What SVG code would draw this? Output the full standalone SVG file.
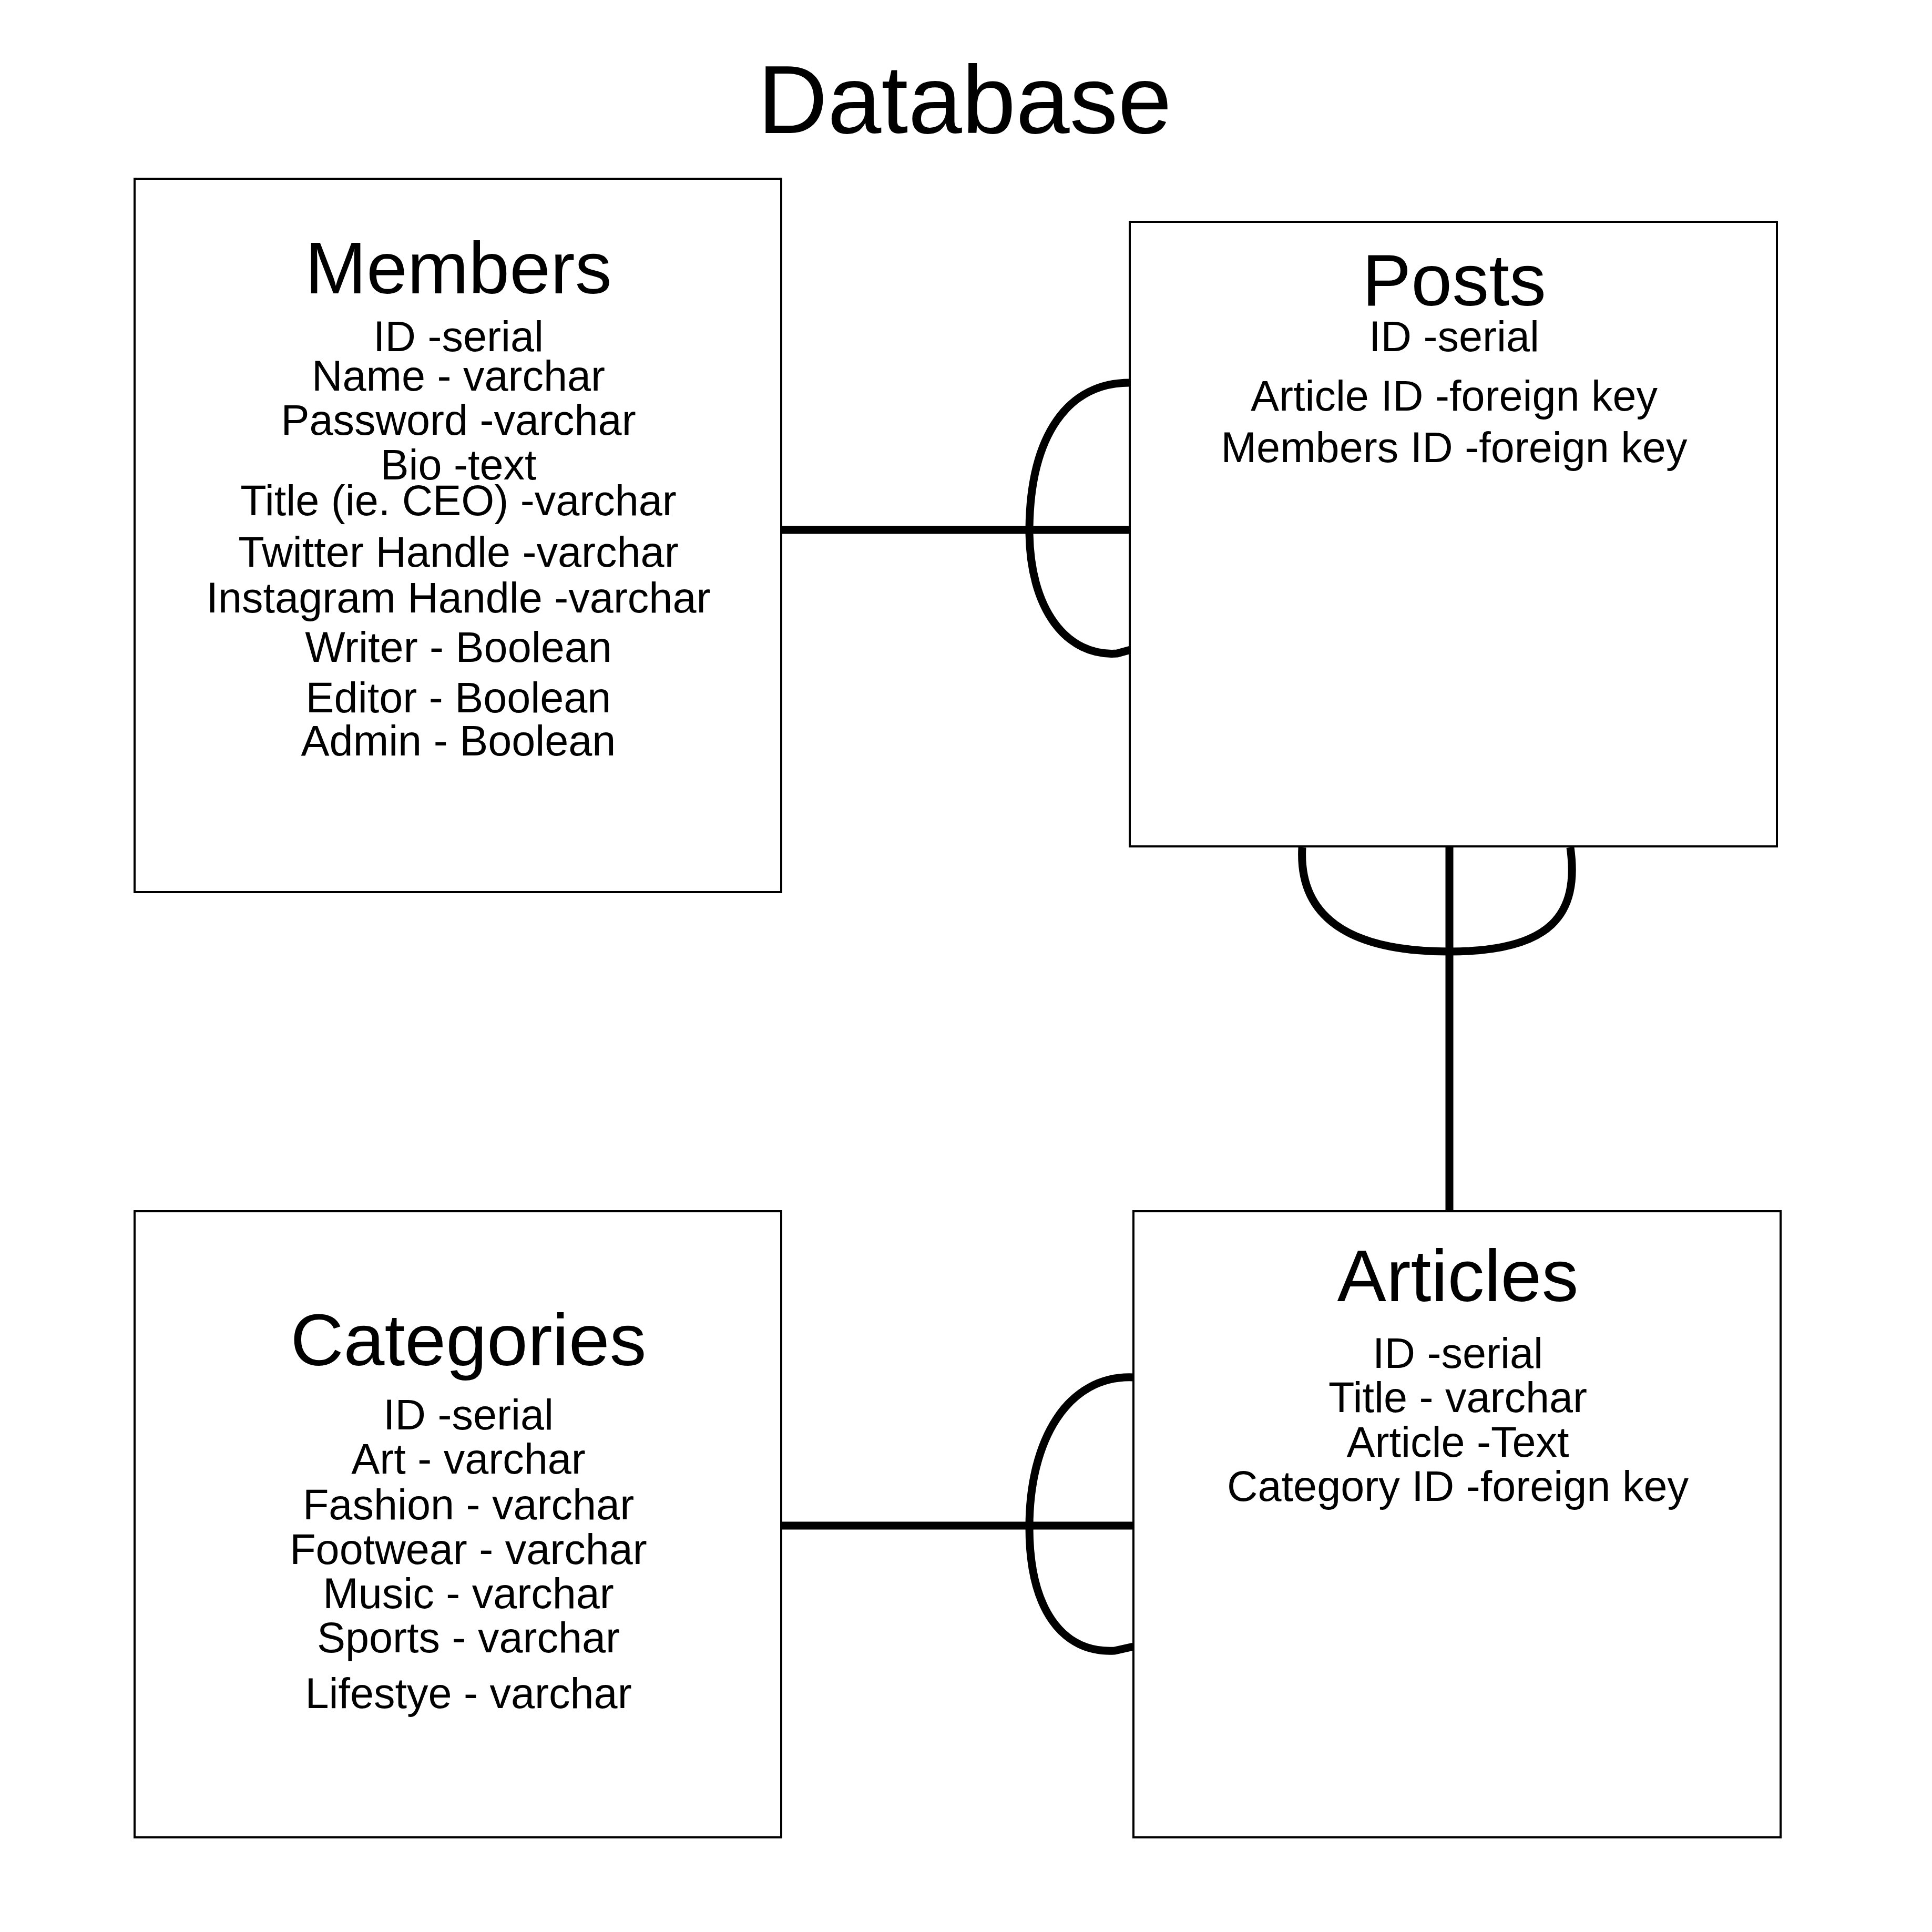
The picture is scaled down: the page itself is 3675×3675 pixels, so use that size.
<svg xmlns="http://www.w3.org/2000/svg" width="3675" height="3675" viewBox="0 0 3675 3675">
<style>
.box{fill:#fff;stroke:#000;stroke-width:4}
.conn{fill:none;stroke:#000;stroke-width:15}
text{font-family:"Liberation Sans",Arial,sans-serif;fill:#000;text-anchor:middle}
.ttl{font-size:184px}
.hd{font-size:140px}
.ln{font-size:81px}
</style>
<rect width="3675" height="3675" fill="#fff"/>
<text class="ttl" x="1835" y="253">Database</text>
<g id="connectors">
<path class="conn" d="M1486 1008 H2156"/>
<path class="conn" d="M2154 728 C2030 725 1960 830 1958 1005 C1957 1160 2030 1250 2125 1243 L2154 1235"/>
<path class="conn" d="M2757 1610 V2304"/>
<path class="conn" d="M2477 1612 C2470 1740 2560 1810 2757 1810 C2950 1810 3005 1740 2987 1612"/>
<path class="conn" d="M1486 2902 H2156"/>
<path class="conn" d="M2156 2620 C2030 2615 1958 2740 1958 2905 C1958 3060 2020 3145 2120 3140 L2156 3132"/>
</g>
<g id="members">
<rect class="box" x="256" y="340" width="1230" height="1357"/>
<text class="hd" x="872" y="558">Members</text>
<text class="ln" x="872" y="668">ID -serial</text>
<text class="ln" x="872" y="743">Name - varchar</text>
<text class="ln" x="872" y="827">Password -varchar</text>
<text class="ln" x="872" y="912">Bio -text</text>
<text class="ln" x="872" y="980">Title (ie. CEO) -varchar</text>
<text class="ln" x="872" y="1078">Twitter Handle -varchar</text>
<text class="ln" x="872" y="1165">Instagram Handle -varchar</text>
<text class="ln" x="872" y="1259">Writer - Boolean</text>
<text class="ln" x="872" y="1355">Editor - Boolean</text>
<text class="ln" x="872" y="1437">Admin - Boolean</text>
</g>
<g id="posts">
<rect class="box" x="2149" y="422" width="1231" height="1188"/>
<text class="hd" x="2766" y="581">Posts</text>
<text class="ln" x="2766" y="668">ID -serial</text>
<text class="ln" x="2766" y="781">Article ID -foreign key</text>
<text class="ln" x="2766" y="879">Members ID -foreign key</text>
</g>
<g id="categories">
<rect class="box" x="256" y="2304" width="1230" height="1191"/>
<text class="hd" x="891" y="2597">Categories</text>
<text class="ln" x="891" y="2719">ID -serial</text>
<text class="ln" x="891" y="2803">Art - varchar</text>
<text class="ln" x="891" y="2890">Fashion - varchar</text>
<text class="ln" x="891" y="2975">Footwear - varchar</text>
<text class="ln" x="891" y="3059">Music - varchar</text>
<text class="ln" x="891" y="3143">Sports - varchar</text>
<text class="ln" x="891" y="3249">Lifestye - varchar</text>
</g>
<g id="articles">
<rect class="box" x="2156" y="2304" width="1231" height="1191"/>
<text class="hd" x="2773" y="2475">Articles</text>
<text class="ln" x="2773" y="2602">ID -serial</text>
<text class="ln" x="2773" y="2686">Title - varchar</text>
<text class="ln" x="2773" y="2771">Article -Text</text>
<text class="ln" x="2773" y="2855">Category ID -foreign key</text>
</g>
</svg>
